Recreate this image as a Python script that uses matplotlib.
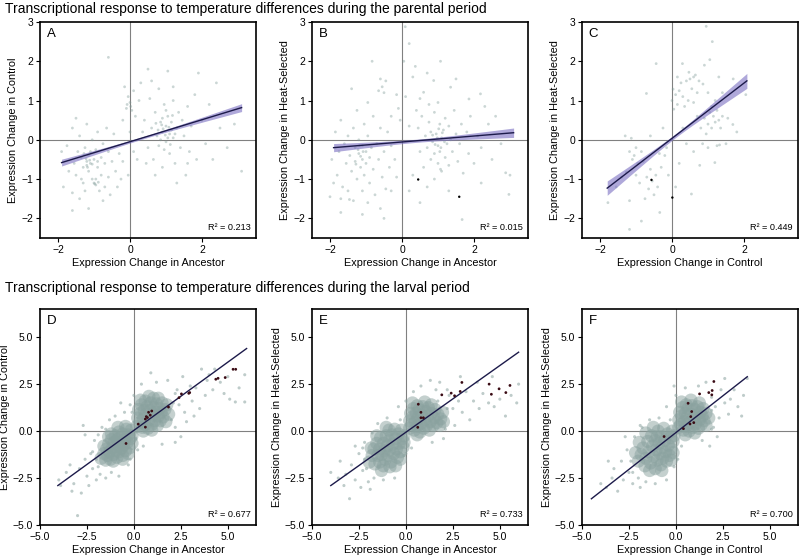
import numpy as np
import matplotlib
matplotlib.use('Agg')
import matplotlib.pyplot as plt

plt.rcParams['font.family'] = ['Liberation Sans', 'DejaVu Sans']

# ---------------- data ----------------
title_top = "Transcriptional response to temperature differences during the parental period"
title_bottom = "Transcriptional response to temperature differences during the larval period"

panel_letters = ["A", "B", "C", "D", "E", "F"]
x_labels = ["Expression Change in Ancestor", "Expression Change in Ancestor", "Expression Change in Control",
            "Expression Change in Ancestor", "Expression Change in Ancestor", "Expression Change in Control"]
y_labels = ["Expression Change in Control", "Expression Change in Heat-Selected", "Expression Change in Heat-Selected",
            "Expression Change in Control", "Expression Change in Heat-Selected", "Expression Change in Heat-Selected"]
r2_values = ["0.213", "0.015", "0.449", "0.677", "0.733", "0.700"]

# regression fits: slope, intercept, x-range
fit_slope = [0.28, 0.076, 0.704, 0.726, 0.71, 0.783]
fit_intercept = [-0.048, -0.055, 0.037, 0.04, -0.06, -0.08]
fit_xmin = [-1.9, -1.9, -1.8, -4.05, -4.0, -4.5]
fit_xmax = [3.1, 3.1, 2.08, 6.0, 6.0, 3.8]
# confidence band half-width at the centre and at the ends
ci_center_x = [0.4, 0.4, 0.1, 0.0, 0.0, 0.0]
ci_center_hw = [0.03, 0.04, 0.05, 0.0, 0.0, 0.0]
ci_end_hw = [0.10, 0.12, 0.19, 0.0, 0.0, 0.0]

top_xticks = [-2, 0, 2]
top_yticks = [-2, -1, 0, 1, 2, 3]
bottom_ticks = [-5.0, -2.5, 0.0, 2.5, 5.0]

pts_A = [(-1.9,-0.3),(-1.75,-0.15),(-1.6,0.3),(-1.55,-0.6),(-1.5,-0.9),(-1.45,-0.3),(-1.4,0.1),(-1.35,-0.45),
 (-1.3,-0.7),(-1.3,-1.1),(-1.25,-0.2),(-1.2,-0.55),(-1.2,-0.65),(-1.15,-0.4),(-1.15,-0.8),(-1.1,-0.3),(-1.1,-0.6),
 (-1.05,0.0),(-1.05,-1.0),(-1.0,-0.5),(-1.0,-1.1),(-0.95,-1.15),(-0.95,-0.25),(-0.9,-0.7),(-0.9,0.2),(-0.85,-1.3),
 (-0.8,-0.45),(-0.8,-0.9),(-0.75,-0.1),(-0.7,-0.6),(-0.7,-1.2),(-0.65,0.3),(-0.6,-0.3),(-0.6,-0.95),(-0.55,-1.4),
 (-0.5,-0.55),(-0.45,0.15),(-0.4,-0.8),(-0.35,-1.2),(-0.3,-0.35),(-1.6,-1.35),(-1.4,-1.5),(-1.15,-1.75),(-0.95,-1.0),
 (-1.35,-1.0),(-1.5,0.55),(-1.2,0.4),(-0.25,-1.0),(-0.2,-0.55),(-1.7,-0.8),(-1.85,-1.2),(-1.25,-1.3),(-0.75,-1.55),
 (-1.22,-0.48),(-1.12,-0.52),(-1.18,-0.7),(-1.05,-0.62),(-0.98,-1.12),(-0.88,-1.08),(-1.28,-0.35),(-0.9,-0.55),
 (-0.1,0.8),(0.0,0.95),(0.05,0.75),(-0.05,1.1),(0.1,1.25),(0.15,0.6),(-0.2,0.5),(0.25,1.0),(0.0,0.2),(0.2,-0.5),
 (-0.05,-0.9),(0.1,-0.3),(-0.15,1.35),(0.3,1.45),(-0.08,0.9),(0.02,0.85),(0.4,0.5),(0.5,-0.2),(0.55,1.05),(0.6,0.3),
 (0.65,-0.5),(0.7,0.7),(0.75,0.1),(0.8,1.3),(0.8,-0.15),(0.85,0.45),(0.9,0.2),(0.9,-0.7),(0.95,0.9),(1.0,0.35),
 (1.0,-0.05),(1.05,0.6),(1.05,1.75),(1.1,0.15),(1.1,-0.35),(1.15,0.45),(1.2,0.05),(1.2,1.0),(1.25,-0.6),(1.3,0.3),
 (1.35,0.7),(1.4,-0.2),(1.45,0.5),(1.5,0.1),(1.55,-0.9),(1.6,0.85),(1.65,-0.3),(1.7,0.35),(1.8,1.15),(1.85,-0.5),
 (1.9,1.7),(2.0,0.5),(2.1,-0.1),(2.2,0.9),(2.4,1.45),(2.5,0.3),(2.7,-0.2),(2.9,0.4),(3.1,-0.8),(0.9,0.55),(1.0,0.75),
 (0.7,-0.9),(1.3,-1.1),(0.6,1.5),(1.2,1.35),(0.45,-0.6),(0.95,-0.25),(1.15,0.25),(1.05,0.05),(0.85,0.0),(1.25,0.15),
 (1.6,-0.6),(2.3,-0.5),(0.35,0.2),(0.92,0.28),(0.98,0.12),(1.08,0.32),(0.88,0.38),(1.12,-0.12),(0.78,0.25),
 (1.18,0.62),(0.72,0.42),(-0.6,2.1),(0.5,1.8),(-1.6,-1.8)]

pts_B = [(-1.95,-0.5),(-1.85,0.2),(-1.8,-0.9),(-1.75,-0.3),(-1.7,0.5),(-1.65,-1.2),(-1.6,-0.1),(-1.55,-0.6),
 (-1.5,0.1),(-1.45,-0.4),(-1.4,-0.8),(-1.35,0.3),(-1.3,-0.2),(-1.3,-0.55),(-1.25,-1.0),(-1.2,0.0),(-1.2,-0.35),
 (-1.15,-0.7),(-1.1,-0.15),(-1.1,-0.5),(-1.05,0.4),(-1.05,-0.9),(-1.0,-0.3),(-1.0,-0.6),(-0.95,0.1),(-0.9,-1.1),
 (-0.9,-0.45),(-0.85,-0.2),(-0.8,0.6),(-0.8,-0.75),(-0.75,-1.4),(-0.7,-0.1),(-0.65,-0.5),(-0.6,0.3),(-0.55,-0.95),
 (-0.5,-0.3),(-0.45,-1.25),(-0.4,0.2),(-0.35,-0.7),(-0.3,-0.15),(-1.7,-1.5),(-1.5,-1.3),(-1.35,-1.55),(-1.1,-1.3),
 (-0.95,-1.6),(-0.6,-1.75),(-0.3,-1.3),(-1.9,-1.1),(-1.25,0.75),(-1.4,1.3),(-0.2,-0.5),(-0.15,-0.95),
 (-1.22,-0.25),(-1.15,-0.42),(-1.28,-0.62),(-1.08,-0.3),(-1.18,-0.15),
 (-0.6,1.55),(-0.55,1.35),(-0.5,1.2),(-0.65,1.25),(-0.45,1.5),(-0.83,2.0),(-0.15,1.15),(-0.1,0.8),(0.1,1.1),
 (-0.3,0.6),(-0.95,0.95),(0.09,2.88),(0.2,2.45),(0.37,1.87),(0.05,2.0),(1.07,2.0),(0.88,1.51),(0.6,1.21),
 (1.35,1.34),(1.86,1.04),(2.18,1.17),(0.3,1.6),(0.5,1.05),(0.75,0.9),(0.4,0.75),(-0.05,0.5),(0.2,0.35),(1.5,1.55),
 (0.7,1.7),(0.45,0.3),(0.5,-0.3),(0.55,0.6),(0.6,-0.7),(0.65,0.1),(0.7,-0.2),(0.75,0.45),(0.8,-0.5),(0.8,0.2),
 (0.85,-0.05),(0.9,0.7),(0.9,-0.35),(0.95,0.15),(1.0,-0.15),(1.0,-0.6),(1.05,0.4),(1.05,-0.3),(1.1,0.05),
 (1.1,-0.8),(1.15,0.25),(1.2,-0.45),(1.2,0.55),(1.25,-0.1),(1.3,-0.65),(1.3,0.35),(1.35,0.0),(1.4,-0.3),(1.45,0.75),
 (1.5,0.15),(1.55,-0.55),(1.6,-0.1),(1.65,0.4),(1.7,-0.85),(1.8,0.2),(1.85,-0.35),(1.9,0.6),(2.0,-0.6),(2.1,0.1),
 (2.2,-0.2),(2.4,0.4),(2.5,-0.5),(2.6,0.6),(2.75,-0.1),(2.88,-0.84),(2.97,-1.39),(3.0,-0.9),(1.07,-0.75),
 (1.67,-2.03),(0.7,-1.2),(1.3,-1.3),(0.9,-1.0),(2.2,-1.1),(0.3,-0.9),(0.5,-1.6),(1.0,0.95),(2.3,0.85),
 (0.98,0.05),(1.08,-0.2),(0.92,-0.12),(1.12,0.18),(1.02,0.28),(0.85,0.12),(1.18,-0.05),
 (-1.46,-1.52),(-1.7,-1.85),(-1.1,-1.9),(-0.5,-2.0),(0.2,-1.3),(-2.0,-1.45)]

pts_C = [(0.95,2.89),(1.12,2.5),(-0.44,1.94),(0.29,1.94),(1.05,2.04),(0.47,1.72),(0.6,1.6),(0.86,1.42),(0.03,1.29),
 (0.1,1.15),(0.3,1.1),(0.55,1.3),(0.7,1.2),(0.05,0.78),(-0.71,1.18),(1.69,0.39),(1.32,-0.13),(1.19,-0.58),
 (0.77,-0.65),(-1.13,0.04),(-1.18,-0.3),(-1.1,-0.5),(-1.27,-0.82),(-1.78,-1.6),(-1.18,-1.55),(-0.85,-2.07),
 (-1.18,-2.28),(0.54,-1.38),(-0.34,-1.85),(0.15,1.6),(0.25,1.45),(0.4,1.5),(0.5,1.55),(0.65,1.65),(0.75,1.5),
 (0.2,1.25),(0.45,1.0),(0.35,0.85),(0.0,1.0),(0.15,0.9),(0.6,0.95),(0.9,1.9),(1.2,1.0),(1.4,1.2),(1.0,1.2),
 (0.8,0.3),(0.9,0.55),(1.0,0.4),(1.05,0.7),(1.1,0.3),(1.15,0.6),(1.2,0.45),(1.25,0.75),(1.3,0.5),(1.35,0.3),
 (1.4,0.6),(0.95,0.15),(1.1,0.85),(0.7,0.6),(1.0,-0.2),(1.25,-0.15),(0.85,-0.1),(1.5,-0.1),(1.55,0.55),(0.6,-0.3),
 (0.4,-0.1),(0.3,0.3),(-1.0,-0.2),(-1.05,-0.4),(-0.95,-0.6),(-0.85,-0.3),(-0.8,-0.55),(-0.6,-0.75),(-0.7,-0.95),
 (-0.55,-1.05),(-0.45,-0.9),(-0.4,-1.2),(-0.3,-0.7),(-0.65,-1.25),(-0.5,-1.4),(-0.9,-1.1),(-1.0,-0.9),(-0.75,-1.5),
 (-0.2,-0.4),(-0.1,-0.9),(-0.15,-0.2),(0.2,-0.6),(-1.4,-0.95),(-1.55,-1.2),(-0.25,0.3),(-1.3,0.1),(-0.6,0.1),
 (0.1,-1.2),(-0.35,-0.35),(1.7,1.55),(2.05,1.15),(1.8,0.2),(1.3,1.6)]

core_D = [(-1.75,-1.45),(-1.6,-1.2),(-1.5,-1.55),(-1.45,-0.95),(-1.4,-1.3),(-1.35,-0.7),(-1.3,-1.1),(-1.25,-1.5),
 (-1.2,-0.45),(-1.15,-0.9),(-1.1,-1.25),(-1.05,-0.6),(-1.0,-0.25),(-0.95,-1.0),(-0.9,-0.45),(-0.9,-1.4),(-0.85,-0.75),
 (-0.8,-0.05),(-0.8,-1.1),(-0.75,-0.35),(-0.7,-0.6),(-0.65,-0.9),(-0.6,-1.3),(-0.6,-0.15),(-0.55,-0.75),(-0.5,-0.45),
 (-0.45,-1.05),(-0.4,0.1),(-0.35,-0.6),(-0.3,-0.2),(-0.25,-0.9),(-0.2,-0.4),(-0.15,0.05),(-0.1,-0.65),(-0.1,-0.25),
 (-1.6,-0.8),(-1.2,-0.15),(-0.85,0.2),(-0.6,-1.5),(-0.3,-1.2),(-1.1,-1.6),(-0.45,0.25),(-1.35,-0.3),
 (0.15,0.25),(0.2,0.7),(0.25,1.15),(0.3,0.45),(0.35,0.95),(0.4,1.4),(0.45,0.2),(0.5,0.65),(0.55,1.1),(0.6,1.6),
 (0.6,0.35),(0.65,0.9),(0.7,1.3),(0.75,0.15),(0.8,0.6),(0.85,1.1),(0.9,1.5),(0.95,0.35),(1.0,0.85),(1.05,1.25),
 (1.05,1.75),(1.1,0.55),(1.15,1.0),(1.2,1.45),(1.25,0.3),(1.3,0.8),(1.35,1.2),(1.4,0.55),(1.45,1.0),(1.5,1.5),
 (1.55,0.75),(1.65,1.15),(1.7,0.5),(1.75,1.4),(0.5,0.0),(0.95,0.05),(0.35,1.65),(0.8,1.85),(1.3,1.75),(1.85,0.9)]
sparse_D = [(-4.0,-2.6),(-3.9,-2.9),(-3.6,-2.2),(-3.3,-3.2),(-3.2,-2.8),(-3.0,-4.5),(-2.9,-2.0),(-2.8,-3.3),
 (-2.6,-1.5),(-2.5,-2.4),(-2.4,-2.9),(-2.3,-1.2),(-2.2,-2.0),(-2.1,-0.5),(-2.0,-2.6),(-1.9,-0.2),(-1.8,-2.3),
 (-1.7,0.2),(-1.5,-2.5),(-1.3,0.6),(-1.2,-2.2),(-1.0,0.8),(-0.8,-2.4),(-0.5,1.0),(-0.3,-1.8),(0.2,-1.0),(0.5,-0.8),
 (-2.6,-0.2),(-3.4,-1.8),(-2.7,0.3),(2.2,0.2),(2.3,2.2),(2.4,1.4),(2.5,-0.3),(2.6,2.9),(2.7,1.0),(2.8,0.5),
 (3.0,2.4),(3.1,1.6),(3.3,2.3),(3.5,1.2),(3.6,3.3),(3.8,1.9),(4.0,3.0),(4.2,2.2),(4.6,2.6),(4.8,2.0),(5.1,1.7),
 (5.4,1.55),(5.6,2.3),(5.9,1.55),(5.9,3.0),(5.0,2.9),(4.3,3.3),(3.2,0.8),(1.2,2.6),(0.4,2.5),(0.9,3.1),(1.8,2.7),
 (2.2,-0.6),(1.5,-0.7),(-0.7,1.5),(0.0,1.9),(-0.2,1.4),(3.9,2.7),(-2.0,-1.5),(-1.9,-1.9),(-2.2,-1.1),(-0.2,-1.5),
 (2.1,1.5),(2.0,0.6),(0.1,-0.4),(-1.5,0.1),(2.2,2.0),(-0.1,1.0)]
hl_D = [(5.28,3.29),(5.42,3.29),(4.36,2.76),(4.48,2.81),(4.86,2.85),(2.92,2.01),(2.97,2.05),(2.53,1.98),(2.4,1.78),
 (1.84,1.28),(0.95,1.07),(0.78,1.0),(0.66,0.77),(0.61,0.64),(0.72,0.72),(0.87,0.85),(0.23,0.37),(0.61,0.21),(-0.42,-0.66)]

core_E = [(-1.95,-1.65),(-1.8,-1.3),(-1.7,-0.95),(-1.65,-1.75),(-1.55,-0.65),(-1.5,-1.3),(-1.4,-1.65),(-1.4,-0.95),
 (-1.35,-0.35),(-1.3,-1.25),(-1.2,-1.85),(-1.2,-0.65),(-1.15,-1.05),(-1.1,-1.5),(-1.05,-0.25),(-1.0,-0.8),(-0.95,-1.3),
 (-0.9,0.05),(-0.9,-0.5),(-0.85,-1.0),(-0.8,-1.65),(-0.75,-0.2),(-0.7,-0.7),(-0.65,-1.2),(-0.6,0.1),(-0.55,-0.4),
 (-0.5,-0.95),(-0.45,-1.4),(-0.4,-0.15),(-0.35,-0.65),(-0.3,-1.1),(-0.25,0.05),(-0.2,-0.4),(-0.15,-0.85),(-0.1,-0.25),
 (-0.1,-0.6),(-1.55,-0.25),(-1.85,-0.9),(-1.05,0.2),(-0.3,-1.5),(-1.3,-2.1),(-0.85,-1.9),(-0.55,-1.85),
 (0.2,0.15),(0.2,0.55),(0.25,0.95),(0.3,0.35),(0.35,0.75),(0.4,1.2),(0.45,0.05),(0.5,0.5),(0.55,0.95),(0.6,1.35),
 (0.6,0.25),(0.65,0.7),(0.7,1.15),(0.75,-0.05),(0.8,0.4),(0.85,0.85),(0.9,1.3),(0.95,0.15),(1.0,0.6),(1.05,1.05),
 (1.1,0.3),(1.15,0.8),(1.2,1.25),(1.25,0.05),(1.3,0.5),(1.35,0.95),(1.45,0.3),(1.5,0.7),(1.55,1.15),(1.65,0.45),
 (1.7,0.9),(1.8,0.3),(1.85,0.65),(1.95,1.0),(0.35,1.5),(1.0,1.55),(0.6,-0.2),(1.35,1.4),(2.0,0.5)]
sparse_E = [(-4.0,-2.2),(-3.6,-2.5),(-3.3,-2.9),(-3.0,-3.6),(-2.9,-1.8),(-2.7,-2.6),(-2.5,-1.2),(-2.4,-3.0),
 (-2.3,-2.1),(-2.2,-0.6),(-2.0,-2.7),(-1.8,-0.1),(-1.7,-2.5),(-1.5,0.4),(-1.2,-2.6),(-1.0,0.7),(-0.6,-2.5),(-0.3,0.6),
 (0.0,-1.2),(0.3,-0.9),(-2.7,-0.8),(-3.5,-1.6),(-3.2,-2.3),(-1.9,-3.1),(2.3,1.9),(2.5,1.2),(2.6,0.3),(2.8,1.6),
 (3.0,1.0),(3.2,2.1),(3.4,0.6),(3.6,1.6),(3.9,1.2),(4.1,2.0),(4.4,1.5),(4.7,1.3),(5.0,1.7),(5.6,1.9),(5.9,1.5),
 (6.0,2.5),(5.3,0.8),(4.6,2.9),(1.3,2.7),(0.8,2.4),(1.8,2.6),(0.4,2.1),(2.0,-0.4),(1.4,-0.6),(-0.4,1.3),(0.0,1.6),
 (2.9,2.9),(3.8,2.6),(2.2,2.2),(1.6,2.2),(-2.2,-1.5),(-2.1,-2.0),(-2.3,-0.9),(2.2,1.2),(2.1,0.1),(-0.1,-1.3),(1.7,1.6)]
hl_E = [(2.98,2.59),(1.91,1.93),(2.41,2.02),(2.59,1.88),(2.89,2.11),(4.43,2.5),(4.55,1.96),(4.96,2.25),(5.32,2.05),
 (5.54,2.43),(0.66,1.43),(0.8,1.0),(0.8,0.71),(0.93,0.71),(0.63,0.2)]

core_F = [(-2.0,-1.6),(-1.85,-1.25),(-1.75,-0.9),(-1.65,-1.85),(-1.6,-1.45),(-1.5,-0.55),(-1.45,-1.1),(-1.35,-1.7),
 (-1.3,-0.25),(-1.25,-0.8),(-1.2,-1.35),(-1.1,-2.0),(-1.1,-0.5),(-1.05,-1.0),(-1.0,-1.55),(-0.95,0.0),(-0.9,-0.65),
 (-0.85,-1.2),(-0.8,-1.8),(-0.8,-0.3),(-0.75,-0.9),(-0.7,-1.45),(-0.65,0.15),(-0.6,-0.5),(-0.55,-1.1),(-0.5,-1.6),
 (-0.45,-0.15),(-0.4,-0.75),(-0.35,-1.3),(-0.3,-0.35),(-0.25,-0.95),(-0.2,0.0),(-0.15,-0.55),(-0.15,-1.15),(-0.1,-0.25),
 (-1.6,-0.1),(-1.95,-0.6),(-1.2,0.2),(-0.25,-1.55),(-1.4,-2.1),(-0.75,-2.1),(-2.15,-1.15),(-1.0,-0.3),
 (0.15,0.2),(0.15,0.6),(0.2,1.0),(0.25,0.35),(0.3,0.8),(0.35,1.25),(0.4,0.05),(0.45,0.5),(0.5,0.95),(0.55,1.4),
 (0.55,0.25),(0.6,0.75),(0.65,1.2),(0.7,0.0),(0.75,0.45),(0.8,0.9),(0.85,1.35),(0.9,0.2),(0.95,0.7),(1.0,1.15),
 (1.05,0.4),(1.1,0.85),(1.15,1.3),(1.2,0.15),(1.25,0.6),(1.3,1.0),(1.35,0.35),(1.4,0.8),(1.45,1.2),(1.5,0.55),
 (1.6,0.95),(1.6,0.3),(0.3,1.55),(0.8,1.65),(1.25,1.5),(0.5,-0.2),(1.0,-0.1),(1.75,0.7)]
sparse_F = [(-4.0,-2.8),(-3.7,-3.0),(-3.4,-2.5),(-3.3,-2.0),(-3.1,-3.2),(-2.9,-1.6),(-2.8,-2.6),(-2.6,-1.0),
 (-2.5,-2.2),(-2.3,-2.8),(-2.2,-0.3),(-2.0,-2.5),(-1.9,0.3),(-1.6,-2.7),(-1.4,0.6),(-1.1,-2.8),(-0.9,0.7),(-0.5,-2.6),
 (-0.3,0.6),(0.1,-1.5),(0.3,-0.8),(-2.7,-0.3),(-1.9,-3.0),(-3.6,-1.6),(1.9,1.8),(2.0,0.2),(2.1,1.3),(2.3,0.7),
 (2.4,2.2),(2.6,1.5),(2.8,0.9),(2.9,1.7),(3.1,2.2),(3.3,1.3),(3.6,1.9),(3.8,2.8),(3.5,0.8),(1.2,2.4),(0.5,2.3),
 (1.6,2.6),(2.2,-0.3),(1.4,-0.5),(-0.5,1.3),(0.0,1.9),(2.6,2.8),(1.8,-0.8),(-0.1,2.4),(-2.4,-1.6),(-2.3,-2.2),
 (1.9,1.1),(1.9,0.1),(-0.1,-1.9),(-1.8,0.2)]
hl_F = [(2.02,2.64),(1.93,2.16),(1.75,2.05),(1.91,1.93),(1.26,1.98),(0.65,1.48),(0.84,1.04),(0.79,0.77),(0.95,0.45),
 (0.75,0.38),(0.4,0.13),(-0.63,-0.29)]

hl_B = [(0.45,-1.01),(1.59,-1.45)]
hl_C = [(-0.57,-1.02),(0.01,-1.47)]

# ---------------- styling ----------------
pt_color = '#7d9a96'
core_color = '#8aa29f'
line_color = '#1c1a4a'
band_color = '#7a6fc2'
ref_color = '#808080'
hl_color = '#3a0b14'

fig = plt.figure(figsize=(8.0, 5.58), dpi=100)
W, H = 800.0, 558.0
lefts = [40, 312, 582]
top_row_top, bot_row_top = 22, 309
size = 216

def make_ax(col, top):
    return fig.add_axes([lefts[col] / W, (H - top - size) / H, size / W, size / H])

axes = [make_ax(c, top_row_top) for c in range(3)] + [make_ax(c, bot_row_top) for c in range(3)]

top_points = [pts_A, pts_B, pts_C]
top_hl = [[], hl_B, hl_C]
bot_core = [core_D, core_E, core_F]
bot_sparse = [sparse_D, sparse_E, sparse_F]
bot_hl = [hl_D, hl_E, hl_F]

for i, ax in enumerate(axes):
    top = i < 3
    if top:
        ax.set_xlim(-2.5, 3.5)
        ax.set_ylim(-2.5, 3.0)
    else:
        ax.set_xlim(-5.0, 6.5)
        ax.set_ylim(-5.0, 6.5)
    ax.axhline(0, color=ref_color, lw=0.8, zorder=1)
    ax.axvline(0, color=ref_color, lw=0.8, zorder=1)

    if top:
        p = np.array(top_points[i])
        ax.scatter(p[:, 0], p[:, 1], s=4, color=pt_color, alpha=0.4, edgecolors='none', zorder=2)
        if top_hl[i]:
            h = np.array(top_hl[i])
            ax.scatter(h[:, 0], h[:, 1], s=3, color='black', edgecolors='none', zorder=5)
    else:
        j = i - 3
        c = np.array(bot_core[j])
        ax.scatter(c[:, 0], c[:, 1], s=90, color=core_color, alpha=0.5, edgecolors='none', zorder=2)
        s = np.array(bot_sparse[j])
        ax.scatter(s[:, 0], s[:, 1], s=5, color=core_color, alpha=0.55, edgecolors='none', zorder=2)
        h = np.array(bot_hl[j])
        ax.scatter(h[:, 0], h[:, 1], s=4, color=hl_color, edgecolors='none', zorder=5)

    xs = np.linspace(fit_xmin[i], fit_xmax[i], 100)
    ys = fit_slope[i] * xs + fit_intercept[i]
    if ci_end_hw[i] > 0:
        xc = ci_center_x[i]
        dmax = max(abs(fit_xmin[i] - xc), abs(fit_xmax[i] - xc))
        k = (ci_end_hw[i] ** 2 - ci_center_hw[i] ** 2) / dmax ** 2
        hw = np.sqrt(ci_center_hw[i] ** 2 + k * (xs - xc) ** 2)
        ax.fill_between(xs, ys - hw, ys + hw, color=band_color, alpha=0.6, lw=0, zorder=3)
    ax.plot(xs, ys, color=line_color, lw=1.0, zorder=4)

    if top:
        ax.set_xticks(top_xticks)
        ax.set_yticks(top_yticks)
    else:
        ax.set_xticks(bottom_ticks)
        ax.set_yticks(bottom_ticks)
        ax.set_xticklabels([f"{t:.1f}".replace('-', '\u2212') for t in bottom_ticks])
        ax.set_yticklabels([f"{t:.1f}".replace('-', '\u2212') for t in bottom_ticks])

    ax.tick_params(direction='out', length=3, width=0.8, labelsize=7.5, pad=2, colors='black')
    for sp in ax.spines.values():
        sp.set_linewidth(1.2)
    ax.set_xlabel(x_labels[i], fontsize=7.8, labelpad=2)
    ax.set_ylabel(y_labels[i], fontsize=7.8, labelpad=2)
    ax.text(0.03, 0.97, panel_letters[i], transform=ax.transAxes, ha='left', va='top', fontsize=9.5)
    ax.text(0.975, 0.03, "R\u00b2 = " + r2_values[i], transform=ax.transAxes, ha='right', va='bottom', fontsize=6.6)

fig.text(5 / W, 1 - 9 / H, title_top, ha='left', va='center', fontsize=10)
fig.text(5 / W, 1 - 288 / H, title_bottom, ha='left', va='center', fontsize=10)

fig.savefig('out.png', dpi=100)
